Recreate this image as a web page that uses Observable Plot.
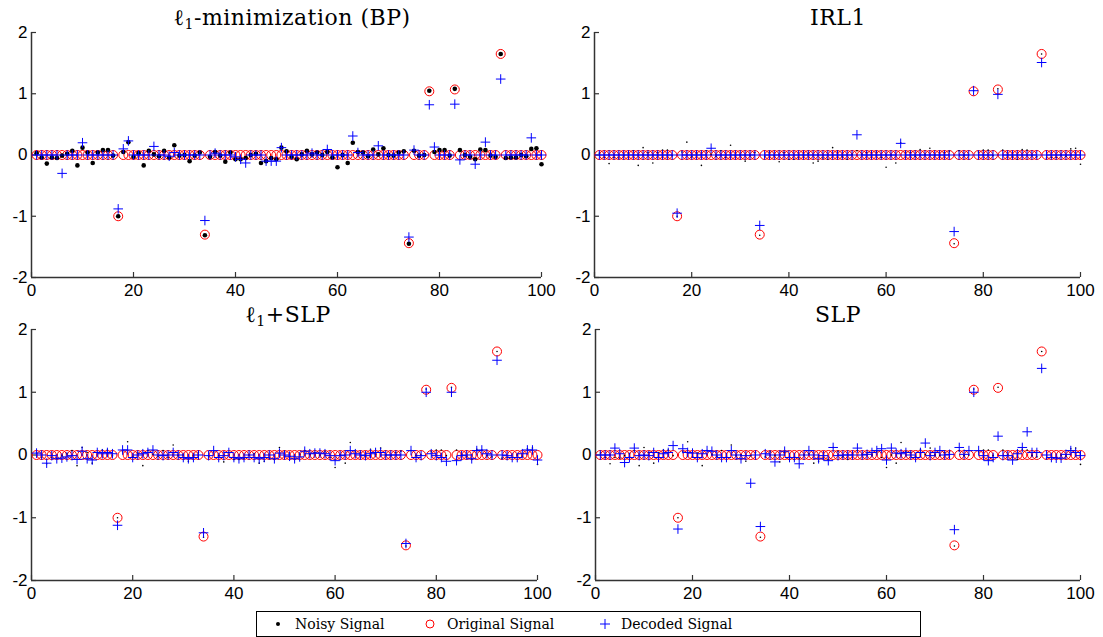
<!DOCTYPE html>
<html><head><meta charset="utf-8">
<script src="https://cdn.jsdelivr.net/npm/d3@7"></script>
<script src="https://cdn.jsdelivr.net/npm/@observablehq/plot@0.6"></script>
<style>
body{margin:0;background:#fff;}
#root{position:relative;width:1103px;height:637px;overflow:hidden;background:#fff;}
.panel{position:absolute;}
.title{position:absolute;font-family:"DejaVu Serif",serif;font-size:22px;line-height:22px;letter-spacing:0.5px;color:#000;white-space:nowrap;transform:translateX(-50%);}
.title sub{font-size:14px;vertical-align:baseline;position:relative;top:4px;}
#legend{position:absolute;left:256px;top:611px;width:663px;height:24px;border:1px solid #000;background:#fff;font-family:"DejaVu Serif",serif;font-size:14px;color:#000;}
.li{position:absolute;top:4px;line-height:16px;white-space:nowrap;}
.ls{position:absolute;top:5px;}
</style></head>
<body><div id="root"></div>
<script>
// ---- data ----
const xDomain = [0, 100];
const yDomain = [-2, 2];
const xTicks = [0, 20, 40, 60, 80, 100];
const yTicks = [-2, -1, 0, 1, 2];
const index = d3.range(1, 101);

const spikeIndex = [17, 34, 74, 78, 83, 92];
const spikeValue = [-1.0, -1.3, -1.44, 1.04, 1.07, 1.65];

const noisy = [
 0.03,-0.04,-0.14,-0.04,-0.05,-0.01, 0.02, 0.07,-0.17, 0.12,
 0.04,-0.13, 0.04, 0.08, 0.08,-0.01,-1.00, 0.05, 0.21,-0.03,
 0.03,-0.17, 0.07, 0.01,-0.02, 0.07,-0.04, 0.16,-0.01, 0.00,
-0.10,-0.01, 0.04,-1.31,-0.03, 0.05,-0.01,-0.11, 0.04,-0.07,
-0.07,-0.05, 0.00, 0.02,-0.13,-0.10,-0.05,-0.07, 0.12, 0.06,
-0.03,-0.07, 0.01, 0.07, 0.01, 0.04, 0.00, 0.05,-0.04,-0.20,
 0.00,-0.13, 0.20, 0.05, 0.04,-0.02, 0.09, 0.01, 0.11, 0.00,
-0.01, 0.04, 0.06,-1.45, 0.07,-0.01, 0.00, 1.05, 0.05, 0.08,
 0.08,-0.01, 1.08, 0.08, 0.00,-0.03,-0.07, 0.09, 0.08,-0.01,
-0.03, 1.65,-0.05,-0.04,-0.04, 0.00,-0.02, 0.10, 0.11,-0.15];

const decodedBP = [
 0, 0, 0, 0, 0,-0.30, 0, 0, 0, 0.20,
 0, 0, 0, 0, 0, 0,-0.88, 0.10, 0.23, 0,
 0, 0, 0, 0.14, 0, 0,-0.02, 0.04, 0, 0,
 0, 0, 0,-1.07, 0, 0.03, 0, 0, 0,-0.03,
-0.07,-0.13, 0, 0, 0,-0.10,-0.10,-0.10, 0.12, 0,
 0, 0, 0, 0, 0.03, 0, 0, 0.09, 0, 0,
 0, 0, 0.31, 0.04, 0, 0, 0, 0.15, 0, 0,
 0, 0, 0,-1.34, 0.08, 0, 0, 0.82, 0.13, 0,
 0, 0, 0.83,-0.08, 0, 0,-0.15, 0, 0.21, 0,
 0, 1.24, 0, 0, 0, 0, 0, 0.28, 0, 0];

const decodedIRL1 = [
 0, 0, 0, 0, 0, 0, 0, 0, 0, 0,
 0, 0, 0, 0, 0, 0,-0.95, 0, 0, 0,
 0, 0, 0, 0.11, 0, 0, 0, 0, 0, 0,
 0, 0, 0,-1.15, 0, 0, 0, 0, 0, 0,
 0, 0, 0, 0, 0, 0, 0, 0, 0, 0,
 0, 0, 0, 0.33, 0, 0, 0, 0, 0, 0,
 0, 0, 0.19, 0, 0, 0, 0, 0, 0, 0,
 0, 0, 0,-1.25, 0, 0, 0, 1.05, 0, 0,
 0, 0, 0.99, 0, 0, 0, 0, 0, 0, 0,
 0, 1.51, 0, 0, 0, 0, 0, 0, 0, 0];

const decodedL1SLP = [
 0.03, 0.00,-0.13,-0.01,-0.06,-0.05,-0.03,-0.01,-0.07, 0.06,
-0.06,-0.08, 0.04, 0.02, 0.04, 0.02,-1.12, 0.08, 0.08,-0.04,
 0.00, 0.02, 0.04, 0.08, 0.00,-0.01, 0.00, 0.04, 0.00,-0.04,
-0.06,-0.04, 0.00,-1.24,-0.01, 0.07,-0.04,-0.01, 0.04,-0.04,
-0.06,-0.04, 0.00,-0.04,-0.06,-0.04, 0.00,-0.06, 0.03, 0.00,
-0.02,-0.06,-0.03, 0.06, 0.02, 0.03, 0.03, 0.02,-0.01,-0.09,
-0.01, 0.00, 0.07, 0.02, 0.00,-0.01, 0.02, 0.04, 0.04, 0.00,
 0.00, 0.00, 0.00,-1.41, 0.07,-0.04,-0.01, 1.00, 0.02,-0.01,
-0.04,-0.10, 1.00,-0.09,-0.01, 0.00,-0.06, 0.07, 0.08, 0.02,
 0.00, 1.51, 0.00,-0.01,-0.04,-0.04, 0.02, 0.08, 0.08,-0.08];

const decodedSLP = [
 0.00, 0.00, 0.00, 0.11, 0.02,-0.12,-0.04, 0.11,-0.01, 0.00,
-0.01, 0.04,-0.04, 0.02, 0.04, 0.15,-1.18, 0.10, 0.04, 0.03,
-0.04, 0.02, 0.07, 0.06, 0.00,-0.04,-0.04, 0.07, 0.00,-0.06,
-0.01,-0.45, 0.00,-1.14, 0.02, 0.00,-0.11, 0.00, 0.06,-0.04,
-0.04,-0.14, 0.00, 0.07, 0.00,-0.06,-0.01,-0.09, 0.12,-0.01,
 0.00, 0.00, 0.00, 0.11, 0.00, 0.01, 0.04, 0.07, 0.10,-0.08,
 0.11, 0.03, 0.02, 0.04, 0.00,-0.04, 0.04, 0.19,-0.01, 0.04,
 0.07, 0.00, 0.01,-1.19, 0.12, 0.01, 0.07, 1.00, 0.07,-0.01,
-0.09,-0.04, 0.30,-0.01,-0.01,-0.08, 0.02, 0.12, 0.37, 0.04,
 0.04, 1.38, 0.00,-0.04,-0.05,-0.05, 0.01, 0.07, 0.04,-0.01];

const original = index.map(i => { const k = spikeIndex.indexOf(i); return k >= 0 ? spikeValue[k] : 0; });

const seriesNames = ["Noisy Signal", "Original Signal", "Decoded Signal"];
const titles = ['<span>ℓ</span><sub>1</sub>-minimization (BP)', 'IRL1', '<span>ℓ</span><sub>1</sub>+SLP', 'SLP'];

// ---- layout ----
const panels = [
  {title: titles[0], dec: decodedBP,   nr: 2.3, left: 0,   top: 0,   w: 560, h: 300, mL: 31, mR: 19, mT: 32, mB: 23, tx: 292, ty: 7},
  {title: titles[1], dec: decodedIRL1, nr: 0.8, left: 560, top: 0,   w: 543, h: 300, mL: 34, mR: 23, mT: 32, mB: 23, tx: 838, ty: 7},
  {title: titles[2], dec: decodedL1SLP,nr: 0.8, left: 0,   top: 300, w: 560, h: 310, mL: 31, mR: 23, mT: 29, mB: 30, tx: 288, ty: 304},
  {title: titles[3], dec: decodedSLP,  nr: 0.8, left: 560, top: 300, w: 543, h: 310, mL: 35, mR: 23, mT: 29, mB: 30, tx: 838, ty: 304}
];

const axisColor = "#333";
const fmt = d => String(d);
const root = document.getElementById("root");

for (const p of panels) {
  const data = index.map((x, k) => ({x, noisy: noisy[k], orig: original[k], dec: p.dec[k]}));
  const chart = Plot.plot({
    width: p.w, height: p.h,
    marginLeft: p.mL, marginRight: p.mR, marginTop: p.mT, marginBottom: p.mB,
    x: {domain: xDomain, label: null},
    y: {domain: yDomain, label: null},
    style: {fontFamily: '"Liberation Sans", Arial, sans-serif', fontSize: "17px", color: "#000", background: "transparent", overflow: "visible"},
    marks: [
      Plot.axisX({ticks: xTicks, tickSize: 0, tickPadding: 6, tickFormat: fmt, fontSize: 17, fill: "#000"}),
      Plot.axisY({ticks: yTicks, tickSize: 0, tickPadding: 4, tickFormat: fmt, fontSize: 17, fill: "#000"}),
      Plot.axisX({ticks: xTicks, tickSize: 5, dy: -5, tickFormat: () => "", stroke: axisColor, strokeWidth: 1.2}),
      Plot.axisY({ticks: yTicks, tickSize: 5, dx: 5, tickFormat: () => "", stroke: axisColor, strokeWidth: 1.2}),
      Plot.ruleX([xDomain[0]], {stroke: axisColor, strokeWidth: 1.5}),
      Plot.ruleY([yDomain[0]], {stroke: axisColor, strokeWidth: 1.5}),
      Plot.dot(data, {x: "x", y: "orig", r: 4.5, stroke: "#ff0000", fill: "none", strokeWidth: 1}),
      Plot.dot(data, {x: "x", y: "noisy", r: p.nr, fill: "#000", stroke: "none"}),
      Plot.dot(data, {x: "x", y: "dec", symbol: "plus", r: 3.2, stroke: "#0000ff", fill: "none", strokeWidth: 1})
    ]
  });
  const wrap = document.createElement("div");
  wrap.className = "panel";
  wrap.style.left = p.left + "px";
  wrap.style.top = p.top + "px";
  wrap.appendChild(chart);
  root.appendChild(wrap);
  const t = document.createElement("div");
  t.className = "title";
  t.style.left = p.tx + "px";
  t.style.top = p.ty + "px";
  t.innerHTML = p.title;
  root.appendChild(t);
}

// ---- legend ----
const legend = document.createElement("div");
legend.id = "legend";
const items = [
  {sym: '<svg width="10" height="14"><circle cx="5" cy="7" r="2" fill="#000"/></svg>', sx: 16, tx: 38},
  {sym: '<svg width="12" height="14"><circle cx="6" cy="7" r="4" fill="none" stroke="#ff0000" stroke-width="1"/></svg>', sx: 167, tx: 190},
  {sym: '<svg width="12" height="14"><path d="M1,7H11M6,2V12" stroke="#0000ff" stroke-width="1"/></svg>', sx: 342, tx: 364}
];
items.forEach((it, k) => {
  const s = document.createElement("div"); s.className = "ls"; s.style.left = it.sx + "px"; s.innerHTML = it.sym; legend.appendChild(s);
  const t = document.createElement("div"); t.className = "li"; t.style.left = it.tx + "px"; t.textContent = seriesNames[k]; legend.appendChild(t);
});
root.appendChild(legend);
</script>
</body></html>
